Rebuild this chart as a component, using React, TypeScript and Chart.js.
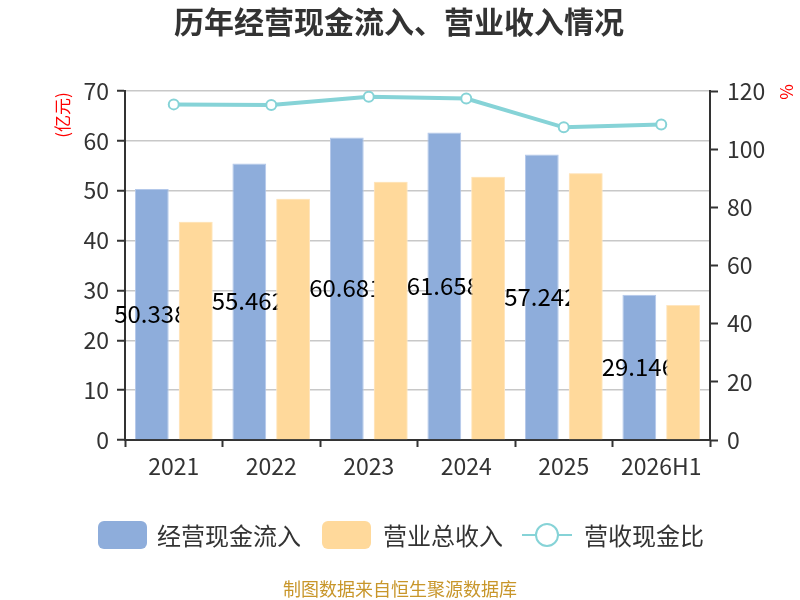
import React, { useEffect, useRef } from "react";
import { Chart, registerables } from "chart.js";

Chart.register(...registerables);

const FONT = '"Noto Sans CJK SC", "Noto Sans", sans-serif';

const years = ["2021", "2022", "2023", "2024", "2025", "2026H1"];
const cashInflow = [50.338, 55.462, 60.681, 61.658, 57.242, 29.146];
const revenue = [43.8, 48.4, 51.8, 52.8, 53.5, 27.1];
const cashRatio = [115.4, 115.2, 118.0, 117.4, 107.5, 108.5];

const leftTicks = { min: 0, max: 70, step: 10 };
const rightTicks = { min: 0, max: 120, step: 20 };

const BLUE = "#8eaddb";
const ORANGE = "#ffd99b";
const TEAL = "#86d3d7";

export default function App() {
  const chartRef = useRef<HTMLCanvasElement | null>(null);
  const chartInstanceRef = useRef<Chart | null>(null);

  useEffect(() => {
    document.body.style.margin = "0";
    if (!chartRef.current) return;
    const ctx = chartRef.current.getContext("2d");
    if (!ctx) return;

    if (chartInstanceRef.current) {
      chartInstanceRef.current.destroy();
    }

    // labels in the middle of the blue bars, then orange bars painted over them
    const barLabels = {
      id: "barLabels",
      afterDatasetsDraw(chart: any) {
        const c = chart.ctx;
        const blue = chart.getDatasetMeta(0);
        c.save();
        c.font = `24px ${FONT}`;
        c.fillStyle = "#000";
        c.textAlign = "center";
        c.textBaseline = "middle";
        blue.data.forEach((el: any, i: number) => {
          c.fillText(String(cashInflow[i]), el.x - 1, (el.y + el.base) / 2);
        });
        c.restore();
        chart.getDatasetMeta(1).data.forEach((el: any) => el.draw(c));
      },
    };

    // title, units, legend, source
    const decorations = {
      id: "decorations",
      afterDraw(chart: any) {
        const c = chart.ctx;
        c.save();
        c.fillStyle = "#333";
        c.font = `bold 30px ${FONT}`;
        c.textAlign = "center";
        c.textBaseline = "middle";
        c.fillText("历年经营现金流入、营业收入情况", 399, 22);

        c.fillStyle = "#ff0000";
        c.font = `17px ${FONT}`;
        c.save();
        c.translate(63, 115);
        c.rotate(-Math.PI / 2);
        c.fillText("(亿元)", 0, 0);
        c.restore();
        c.save();
        c.translate(787, 92);
        c.rotate(-Math.PI / 2);
        c.fillText("%", 0, 0);
        c.restore();

        // legend
        const ly = 535;
        c.textAlign = "left";
        c.font = `24px ${FONT}`;
        const box = (x: number, fill: string) => {
          c.fillStyle = fill;
          c.beginPath();
          c.roundRect(x, ly - 14, 49, 28, 6);
          c.fill();
        };
        box(98, BLUE);
        c.fillStyle = "#333";
        c.fillText(chart.data.datasets[0].label, 157, ly + 1);
        box(322, ORANGE);
        c.fillStyle = "#333";
        c.fillText(chart.data.datasets[1].label, 383, ly + 1);
        c.strokeStyle = TEAL;
        c.lineWidth = 2;
        c.beginPath();
        c.moveTo(522, ly);
        c.lineTo(572, ly);
        c.stroke();
        c.beginPath();
        c.arc(547, ly, 11, 0, Math.PI * 2);
        c.fillStyle = "#fff";
        c.fill();
        c.stroke();
        c.fillStyle = "#333";
        c.fillText(chart.data.datasets[2].label, 584, ly + 1);

        c.fillStyle = "#c8962a";
        c.font = `18px ${FONT}`;
        c.textAlign = "center";
        c.fillText("制图数据来自恒生聚源数据库", 400, 589);
        c.restore();
      },
    };

    chartInstanceRef.current = new Chart(ctx, {
      type: "bar",
      data: {
        labels: years,
        datasets: [
          {
            label: "经营现金流入",
            data: cashInflow,
            backgroundColor: BLUE,
            borderColor: "#b3c8ea",
            borderWidth: 1,
            yAxisID: "y",
            categoryPercentage: 0.9,
            barPercentage: 0.77,
          },
          {
            label: "营业总收入",
            data: revenue,
            backgroundColor: ORANGE,
            borderColor: "#ffe6c0",
            borderWidth: 1,
            yAxisID: "y",
            categoryPercentage: 0.9,
            barPercentage: 0.77,
          },
          {
            type: "line",
            label: "营收现金比",
            data: cashRatio,
            borderColor: TEAL,
            borderWidth: 4,
            pointRadius: 5,
            pointBorderWidth: 2,
            pointBackgroundColor: "#fff",
            pointBorderColor: TEAL,
            tension: 0,
            yAxisID: "y1",
          } as any,
        ],
      },
      options: {
        responsive: false,
        animation: false,
        layout: { padding: { top: 91, bottom: 0, left: 0, right: 0 } },
        plugins: {
          legend: { display: false },
          tooltip: { enabled: false },
          title: { display: false },
        },
        scales: {
          x: {
            offset: true,
            afterFit: (s: any) => {
              s.height = 160;
            },
            border: { color: "#333", width: 2 },
            grid: {
              offset: true,
              drawOnChartArea: false,
              tickLength: 7,
              tickColor: "#333",
              tickWidth: 2,
            },
            ticks: {
              color: "#333",
              font: { size: 23, family: FONT },
              padding: 5,
              maxRotation: 0,
              autoSkip: false,
            },
          },
          y: {
            position: "left",
            min: leftTicks.min,
            max: leftTicks.max,
            afterFit: (s: any) => {
              s.width = 125;
            },
            border: { color: "#333", width: 2 },
            grid: {
              color: "#c8c8c8",
              lineWidth: 1.5,
              tickLength: 8,
              tickColor: "#333",
              tickWidth: 2,
            },
            ticks: {
              stepSize: leftTicks.step,
              color: "#333",
              font: { size: 23, family: FONT },
              padding: 8,
            },
          },
          y1: {
            position: "right",
            min: rightTicks.min,
            max: rightTicks.max,
            afterFit: (s: any) => {
              s.width = 90;
            },
            border: { color: "#333", width: 2 },
            grid: {
              drawOnChartArea: false,
              tickLength: 8,
              tickColor: "#333",
              tickWidth: 2,
            },
            ticks: {
              stepSize: rightTicks.step,
              color: "#333",
              font: { size: 23, family: FONT },
              padding: 9,
            },
          },
        },
      },
      plugins: [barLabels, decorations],
    });

    return () => {
      if (chartInstanceRef.current) {
        chartInstanceRef.current.destroy();
      }
    };
  }, []);

  return (
    <div style={{ width: 800, height: 600 }}>
      <canvas ref={chartRef} width={800} height={600} />
    </div>
  );
}
